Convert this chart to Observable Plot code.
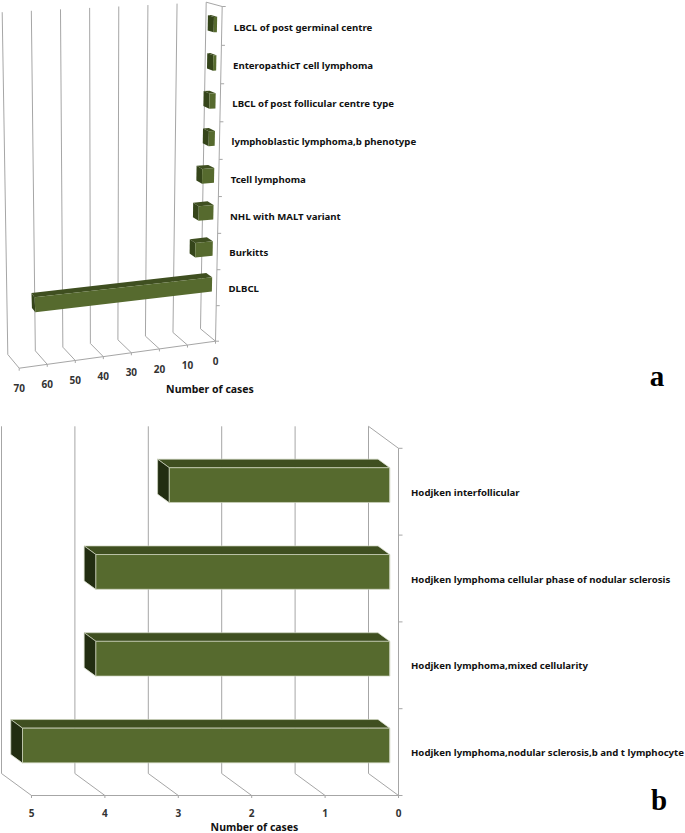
<!DOCTYPE html>
<html>
<head>
<meta charset="utf-8">
<script src="https://cdn.jsdelivr.net/npm/d3@7"></script>
<script src="https://cdn.jsdelivr.net/npm/@observablehq/plot@0.6"></script>
<style>
html,body{margin:0;padding:0;background:#fff}
svg{display:block}
</style>
</head>
<body>
<div id="chart"></div>
<script>
// ---- Data ----
const categoriesA = ["", "DLBCL", "Burkitts", "NHL with MALT variant", "Tcell lymphoma",
  "lymphoblastic lymphoma,b phenotype", "LBCL of post follicular centre type",
  "EnteropathicT cell lymphoma", "LBCL of post germinal centre"];
const valuesA = [0, 62, 6, 5, 4, 2, 2, 1, 1];
const ticksA = [0, 10, 20, 30, 40, 50, 60, 70];

const categoriesB = ["Hodjken lymphoma,nodular sclerosis,b and t lymphocyte",
  "Hodjken lymphoma,mixed cellularity",
  "Hodjken lymphoma cellular phase of nodular sclerosis",
  "Hodjken interfollicular"];
const valuesB = [5, 4, 4, 3];
const ticksB = [0, 1, 2, 3, 4, 5];

// ---- Style ----
const FONT = "'Noto Sans', sans-serif";
const GRID = "#a6a6a6", FRONT = "#566a2e", TOP = "#3f4f20", EDGE = "#d0d6c0";
const BAR_LOW = 0.3, BAR_HIGH = 0.7, D_FRONT = 0.3, D_BACK = 0.69;

// Build the three faces of a box from any (value,row,depth) projection
function boxFaces(project, v, row) {
  const lo = row + BAR_LOW, hi = row + BAR_HIGH;
  const poly = (id, pts) => pts.map(([a, b, c]) => {
    const [x, y] = project(a, b, c);
    return {id, x, y};
  });
  return {
    top: poly("t" + row, [[0, hi, D_FRONT], [v, hi, D_FRONT], [v, hi, D_BACK], [0, hi, D_BACK]]),
    side: poly("s" + row, [[v, lo, D_FRONT], [v, hi, D_FRONT], [v, hi, D_BACK], [v, lo, D_BACK]]),
    front: poly("f" + row, [[0, lo, D_FRONT], [v, lo, D_FRONT], [v, hi, D_FRONT], [0, hi, D_FRONT]])
  };
}
function boxMarks(faces, sideFill, edge, edgeW) {
  const opt = (fill) => ({x: "x", y: "y", z: "id", fill, stroke: edge, strokeWidth: edgeW, curve: "linear-closed"});
  return [
    Plot.line(faces.flatMap(f => f.top), opt(TOP)),
    Plot.line(faces.flatMap(f => f.side), opt(sideFill)),
    Plot.line(faces.flatMap(f => f.front), opt(FRONT))
  ];
}

// ---- Panel a: perspective view. x in cases, y in category rows ----
const A_CASE = 2.8, A_ROW = 37.19, A_X0 = 215, A_Y0 = 340.7;
const ua = px => (A_X0 - px) / A_CASE, ra = py => (A_Y0 - py) / A_ROW;
const cornersA = {
  f00: [215, 340.7], f10: [18.7, 367.7], f01: [221.7, 6], f11: [-12, 7],
  b00: [200, 328.3], b10: [7.3, 354], b01: [205.7, 1.7], b11: [1.7, 11.7]
};
const nA = categoriesA.length;
function projectA(v, c, d) {
  const s = v / 70, q = c / nA, t = 0.95 * q + 0.05 * q * q;
  const mix = (a, b, k) => [a[0] + (b[0] - a[0]) * k, a[1] + (b[1] - a[1]) * k];
  const C = cornersA;
  const front = mix(mix(C.f00, C.f10, s), mix(C.f01, C.f11, s), t);
  const back = mix(mix(C.b00, C.b10, s), mix(C.b01, C.b11, s), t);
  const p = mix(front, back, d);
  return [ua(p[0]), ra(p[1])];
}
const seg = (project, a, b) => {
  const p = project(...a), q = project(...b);
  return {x1: p[0], y1: p[1], x2: q[0], y2: q[1]};
};
const linkOpt = {x1: "x1", y1: "y1", x2: "x2", y2: "y2", stroke: GRID, strokeWidth: 1};

const rowsA = categoriesA.map((name, i) => ({name, value: valuesA[i], row: i}));
const labelsA = rowsA.filter(d => d.name).map(d => {
  const [x, y] = projectA(0, d.row + 0.5, 0);
  return {x, y, name: d.name};
});
const facesA = rowsA.filter(d => d.value > 0).map(d => boxFaces(projectA, d.value, d.row));
const tickLabelsA = ticksA.map(v => {
  const [x, y] = projectA(v, 0, 0);
  return {x, y, v};
});

const panelA = Plot.plot({
  width: 685, height: 410, margin: 0,
  x: {domain: [ua(0), ua(685)], axis: null},
  y: {domain: [ra(410), ra(0)], axis: null},
  marks: [
    // back wall
    Plot.link(ticksA.map(v => seg(projectA, [v, 0, 1], [v, nA, 1])), linkOpt),
    // floor
    Plot.link(ticksA.map(v => seg(projectA, [v, 0, 0], [v, 0, 1])), linkOpt),
    Plot.link([seg(projectA, [0, 0, 0], [70, 0, 0])], linkOpt),
    // side wall
    Plot.link([seg(projectA, [0, nA, 1], [0, nA, 0]), seg(projectA, [0, 0, 0], [0, nA, 0])], linkOpt),
    // row ticks
    Plot.link(d3.range(nA + 1).map(i => {
      const p = projectA(0, i, 0);
      return {x1: p[0], y1: p[1], x2: p[0] - 3.5 / A_CASE, y2: p[1]};
    }), linkOpt),
    // value ticks
    Plot.link(tickLabelsA.map(d => ({x1: d.x, y1: d.y, x2: d.x, y2: d.y - 2.5 / A_ROW})), linkOpt),
    ...boxMarks(facesA, "#35451a", "none", 0),
    Plot.text(labelsA, {x: "x", y: "y", text: "name", textAnchor: "start", dx: 12, dy: 1.5,
      fontFamily: FONT, fontWeight: 700, fontSize: 9.65, fill: "#111"}),
    Plot.text(tickLabelsA, {x: "x", y: "y", text: d => String(d.v), dy: 20.5,
      fontFamily: FONT, fontWeight: 700, fontSize: 10, fill: "#333"}),
    Plot.text(["Number of cases"], {x: ua(209.5), y: ra(388.7), text: d => d,
      fontFamily: FONT, fontWeight: 700, fontSize: 10.5, fill: "#111"}),
    Plot.text(["a"], {x: ua(656.5), y: ra(376), text: d => d,
      fontFamily: "'Liberation Serif', serif", fontWeight: 700, fontSize: 29, fill: "#000"})
  ]
});

// ---- Panel b: oblique view. x in cases, y in category rows ----
const B_CASE = 73.4, B_ROW = 86.8;
const DX = 30 / B_CASE, DY = 22 / B_ROW;
const projectB = (v, c, d) => [v + d * DX, c + d * DY];
const nB = categoriesB.length;
const rowsB = categoriesB.map((name, i) => ({name, value: valuesB[i], row: i}));
const facesB = rowsB.map(d => boxFaces(projectB, d.value, d.row));
const ub = px => (398 - px) / B_CASE, rb = py => (385 - py) / B_ROW;

const panelB = Plot.plot({
  width: 685, height: 423, margin: 0, marginBottom: 38,
  x: {domain: [ub(0), ub(685)], axis: null},
  y: {domain: [0, rb(0)], axis: null},
  marks: [
    Plot.link(ticksB.map(v => seg(projectB, [v, 0, 1], [v, nB, 1])), linkOpt),
    Plot.link(ticksB.map(v => seg(projectB, [v, 0, 0], [v, 0, 1])), linkOpt),
    Plot.link([seg(projectB, [0, 0, 0], [5, 0, 0])], linkOpt),
    Plot.link([seg(projectB, [0, nB, 1], [0, nB, 0]), seg(projectB, [0, 0, 0], [0, nB, 0])], linkOpt),
    Plot.link(d3.range(nB + 1).map(i => ({x1: 0, y1: i, x2: -4 / B_CASE, y2: i})), linkOpt),
    Plot.axisX({anchor: "bottom", ticks: ticksB, tickFormat: d3.format("d"), tickSize: 3, tickPadding: 11.5, label: null,
      stroke: GRID, fill: "#333", fontFamily: FONT, fontWeight: 700, fontSize: 10}),
    ...boxMarks(facesB, "#222d11", EDGE, 0.7),
    Plot.text(rowsB, {x: 0, y: d => d.row + 0.5, text: "name", textAnchor: "start", dx: 12.5, dy: 1,
      fontFamily: FONT, fontWeight: 700, fontSize: 9.65, fill: "#111"}),
    Plot.text(["Number of cases"], {x: ub(254), y: rb(417.4), text: d => d,
      fontFamily: FONT, fontWeight: 700, fontSize: 10.5, fill: "#111"}),
    Plot.text(["b"], {x: ub(658.5), y: rb(390), text: d => d,
      fontFamily: "'Liberation Serif', serif", fontWeight: 700, fontSize: 29, fill: "#000"})
  ]
});

const host = document.getElementById("chart");
host.append(panelA, panelB);
</script>
</body>
</html>
